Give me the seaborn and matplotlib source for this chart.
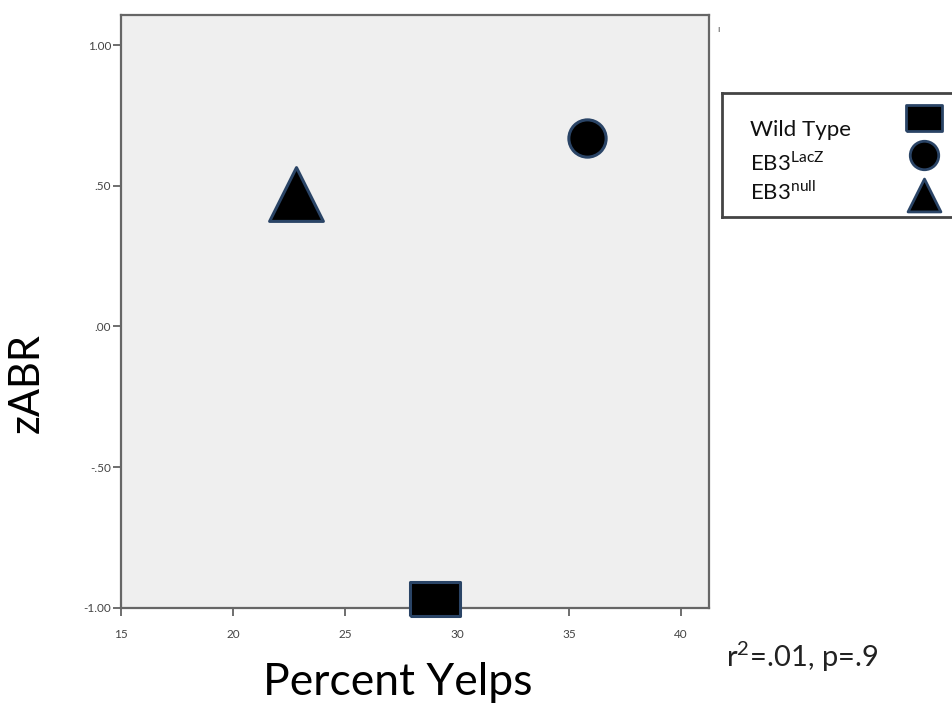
import numpy as np
import matplotlib
matplotlib.use("Agg")
import matplotlib.pyplot as plt
import seaborn as sns

# data
groups = ["Wild Type", "EB3$^{\\mathrm{LacZ}}$", "EB3$^{\\mathrm{null}}$"]
percent_yelps = [29.0, 35.8, 22.8]
zabr = [-0.97, 0.67, 0.47]

x_ticks = [15, 20, 25, 30, 35, 40]
y_ticks = [-1.0, -0.5, 0.0, 0.5, 1.0]
y_tick_labels = ["-1.00", "-.50", ".00", ".50", "1.00"]

# wide rectangle for wild type, circle, triangle
rect = [(-1.45, -1.0), (1.45, -1.0), (1.45, 1.0), (-1.45, 1.0), (-1.45, -1.0)]
markers = [rect, "o", "^"]
sizes = [1300, 720, 1500]
legend_sizes = [700, 420, 560]

sns.set_theme(style="white")
plt.rcParams["font.family"] = ["Lato", "DejaVu Sans"]
plt.rcParams["mathtext.fontset"] = "custom"
plt.rcParams["mathtext.rm"] = "Lato"

fig = plt.figure(figsize=(9.53, 7.11), dpi=100)
ax = fig.add_axes([0.127, 0.145, 0.617, 0.834])
ax.set_facecolor("#efefef")

edge = "#2a4466"
for g, x, y, m, s in zip(groups, percent_yelps, zabr, markers, sizes):
    sns.scatterplot(x=[x], y=[y], marker=m, s=s, color="black",
                    edgecolor=edge, linewidth=2.2, ax=ax,
                    clip_on=False, zorder=5, legend=False)

ax.set_xlim(15, 41.25)
ax.set_ylim(-1.0, 1.107)
ax.set_xticks(x_ticks)
ax.set_yticks(y_ticks)
ax.set_yticklabels(y_tick_labels)
ax.tick_params(axis="both", which="both", direction="out", length=6,
               width=1.2, color="#555555", labelsize=8.5,
               labelcolor="#444444", bottom=True, left=True)
ax.tick_params(axis="x", pad=9)
ax.tick_params(axis="y", pad=1)
for side in ["left", "bottom", "right", "top"]:
    ax.spines[side].set_color("#666666")
    ax.spines[side].set_linewidth(1.6)

ax.set_xlabel("Percent Yelps", fontsize=32, color="black")
ax.xaxis.set_label_coords(0.47, -0.092)
ax.set_ylabel("zABR", fontsize=30, color="black")
ax.yaxis.set_label_coords(-0.128, 0.38)

# legend box drawn as its own small axes, markers on the right
lax = fig.add_axes([722 / 953, (711 - 217) / 711, 240 / 953, 124 / 711])
lax.set_xlim(0, 1)
lax.set_ylim(0, 1)
lax.set_xticks([])
lax.set_yticks([])
lax.set_facecolor("white")
for side in ["left", "bottom", "right", "top"]:
    lax.spines[side].set_color("#444444")
    lax.spines[side].set_linewidth(2)
marker_rows = [0.80, 0.50, 0.18]
text_rows = [0.70, 0.44, 0.20]
for g, m, s, my, ty in zip(groups, markers, legend_sizes, marker_rows, text_rows):
    sns.scatterplot(x=[0.84], y=[my], marker=m, s=s, color="black",
                    edgecolor=edge, linewidth=2, ax=lax, legend=False,
                    clip_on=False)
    lax.text(0.118, ty, g, fontsize=16, va="center", ha="left", color="#111111")
lax.set_xlabel("")
lax.set_ylabel("")

fig.text(0.762, 0.062, "r$^2$=.01, p=.9", fontsize=21, color="#222222")
fig.text(0.753, 0.955, "ı", fontsize=7, color="#555555")

fig.savefig("out.png", dpi=100)
